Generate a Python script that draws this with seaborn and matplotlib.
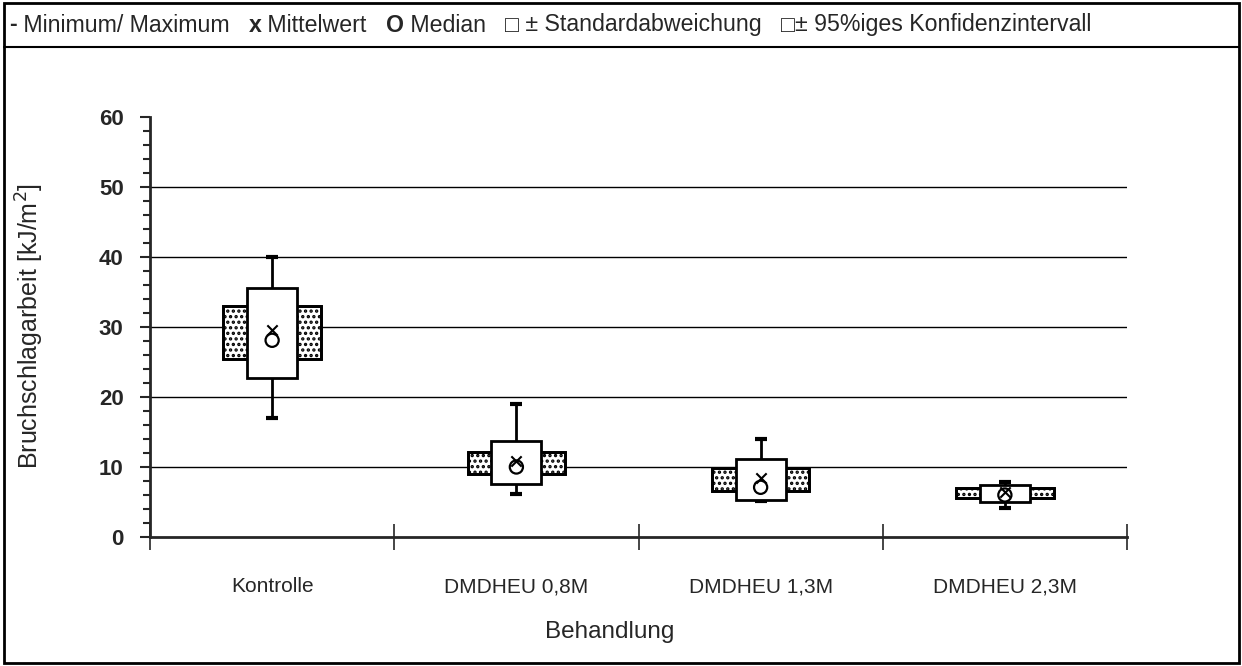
import matplotlib
matplotlib.use("Agg")
import numpy as np
import pandas as pd
import seaborn as sns
import matplotlib.pyplot as plt
from matplotlib.offsetbox import TextArea, HPacker, AnchoredOffsetbox
from matplotlib.ticker import MultipleLocator, FixedLocator, NullFormatter

# werte
kategorien = ["Kontrolle", "DMDHEU 0,8M", "DMDHEU 1,3M", "DMDHEU 2,3M"]
minimum = [17.0, 6.1, 5.2, 4.1]
maximum = [40.0, 19.0, 14.0, 7.9]
mittelwert = [29.6, 10.9, 8.4, 6.5]
median = [28.1, 10.0, 7.1, 6.0]
sd_unten = [22.7, 7.6, 5.3, 5.0]
sd_oben = [35.6, 13.7, 11.1, 7.4]
ki_unten = [25.4, 9.0, 6.6, 5.6]
ki_oben = [33.0, 12.1, 9.9, 7.0]

FONT = ["Liberation Sans", "DejaVu Sans"]

sns.set_style("ticks")
plt.rcParams["font.family"] = FONT
plt.rcParams["hatch.linewidth"] = 1.6

df = pd.DataFrame({"kat": kategorien, "x": np.arange(len(kategorien)) + 0.5,
                   "min": minimum, "max": maximum, "mw": mittelwert, "med": median,
                   "sdu": sd_unten, "sdo": sd_oben, "kiu": ki_unten, "kio": ki_oben})

fig = plt.figure(figsize=(12.42, 6.66), dpi=100)
ax = fig.add_axes([150 / 1242, 129 / 666, 977 / 1242, 420 / 666])

# horizontale gitterlinien
for g in [10, 20, 30, 40, 50]:
    ax.axhline(g, color="black", lw=1.0, zorder=0)

# whisker min-max
ax.vlines(df["x"], df["min"], df["max"], color="black", lw=2.0, zorder=1)
ax.hlines(df["min"], df["x"] - 0.025, df["x"] + 0.025, color="black", lw=3.0, zorder=1)
ax.hlines(df["max"], df["x"] - 0.025, df["x"] + 0.025, color="black", lw=3.0, zorder=1)

# konfidenzintervall (gepunktet)
ax.bar(df["x"], df["kio"] - df["kiu"], bottom=df["kiu"], width=0.40,
       facecolor="white", edgecolor="black", hatch="...", lw=2.0, zorder=2)
ax.bar(df["x"], df["kio"] - df["kiu"], bottom=df["kiu"], width=0.40,
       facecolor="none", edgecolor="black", lw=2.0, zorder=2)
# standardabweichung
ax.bar(df["x"], df["sdo"] - df["sdu"], bottom=df["sdu"], width=0.205,
       facecolor="white", edgecolor="black", lw=2.0, zorder=3)

# mittelwert und median
sns.scatterplot(data=df, x="x", y="mw", marker="x", s=55, color="black",
                linewidth=1.5, ax=ax, zorder=4, legend=False)
sns.scatterplot(data=df, x="x", y="med", marker="o", s=90, facecolor="none",
                edgecolor="black", linewidth=1.6, ax=ax, zorder=4, legend=False)

ax.set_xlim(0, len(kategorien))
ax.set_ylim(0, 60)
ax.yaxis.set_major_locator(MultipleLocator(10))
ax.yaxis.set_minor_locator(MultipleLocator(2))
ax.tick_params(axis="y", which="major", length=7, width=1.5, labelsize=16, pad=12)
ax.tick_params(axis="y", which="minor", length=5, width=1.5)
for lab in ax.get_yticklabels():
    lab.set_fontweight("bold")

ax.xaxis.set_major_locator(FixedLocator(np.arange(len(kategorien) + 1)))
ax.xaxis.set_major_formatter(NullFormatter())
ax.xaxis.set_minor_locator(FixedLocator(df["x"]))
ax.set_xticklabels(kategorien, minor=True)
ax.tick_params(axis="x", which="major", direction="inout", length=19, width=1.2)
ax.tick_params(axis="x", which="minor", length=0, labelsize=15, pad=29)

for s in ["top", "right"]:
    ax.spines[s].set_visible(False)
for s in ["left", "bottom"]:
    ax.spines[s].set_linewidth(2.0)

ax.set_ylabel("")
ax.set_xlabel("")
fig.text(30 / 1242, 1 - 326 / 666, "Bruchschlagarbeit [kJ/m$^2$]", fontsize=18,
         rotation=90, ha="center", va="center")
fig.text(610 / 1242, 1 - 632 / 666, "Behandlung", fontsize=17.5, ha="center", va="center")

# rahmen und kopfzeile
fig.patches.append(plt.Rectangle((4 / 1242, 3 / 666), 1235 / 1242, 660 / 666, transform=fig.transFigure,
                                 fill=False, edgecolor="black", lw=2.0))
fig.add_artist(plt.Line2D([4 / 1242, 1239 / 1242], [1 - 47 / 666, 1 - 47 / 666],
                          transform=fig.transFigure, color="black", lw=1.5))

teile = [("-", "bold"), (" Minimum/ Maximum   ", "normal"), ("x", "bold"), (" Mittelwert   ", "normal"),
         ("O", "bold"), (" Median   ", "normal"), ("□", "normal"), (" ± Standardabweichung   ", "normal"),
         ("□", "normal"), ("± 95%iges Konfidenzintervall", "normal")]
boxen = [TextArea(t, textprops=dict(fontsize=16.7, fontweight=w, family=FONT)) for t, w in teile]
kopf = HPacker(children=boxen, align="baseline", pad=0, sep=0)
anch = AnchoredOffsetbox(loc="center left", child=kopf, frameon=False, pad=0, borderpad=0,
                         bbox_to_anchor=(9 / 1242, 1 - 25 / 666), bbox_transform=fig.transFigure)
fig.add_artist(anch)

fig.savefig("out.png", dpi=100)
